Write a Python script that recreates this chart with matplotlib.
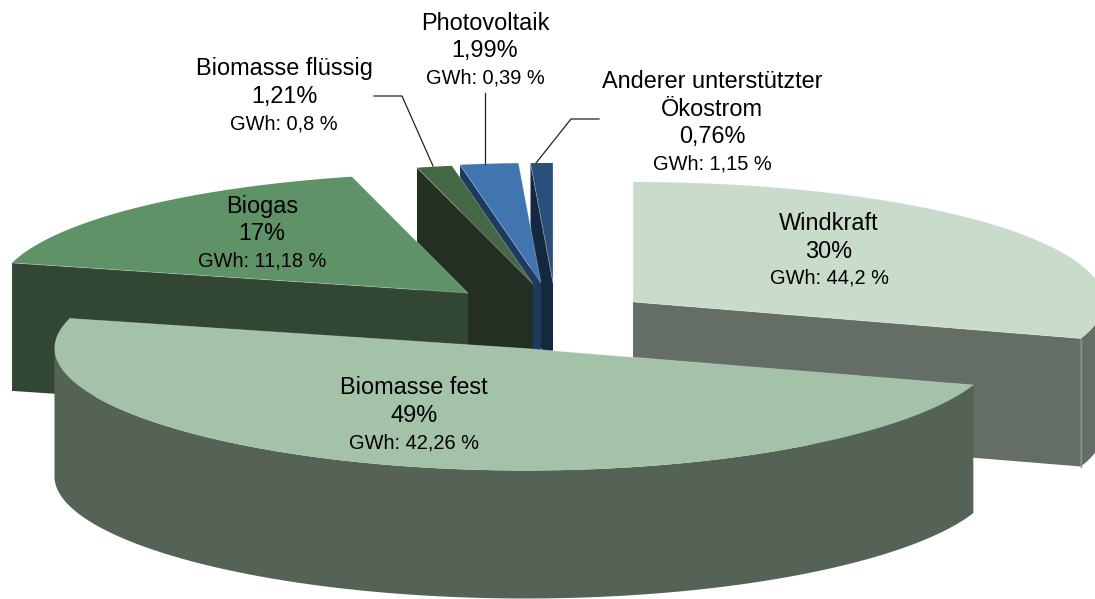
import numpy as np
import matplotlib
matplotlib.use("Agg")
import matplotlib.pyplot as plt
from matplotlib.patches import Polygon

plt.rcParams['font.family'] = ['Liberation Sans', 'DejaVu Sans']

names = ["Windkraft", "Biomasse fest", "Biogas", "Biomasse flüssig", "Photovoltaik",
         "Anderer unterstützter\nÖkostrom"]
shares = [30, 49, 17, 1.21, 1.99, 0.76]
share_labels = ["30%", "49%", "17%", "1,21%", "1,99%", "0,76%"]
gwh_labels = ["GWh: 44,2 %", "GWh: 42,26 %", "GWh: 11,18 %", "GWh: 0,8 %", "GWh: 0,39 %", "GWh: 1,15 %"]

top_colors = ["#c9dbcb", "#a4c2a7", "#5f9266", "#446744", "#4175b0", "#2b4f7b"]
side_colors = ["#646e64", "#546356", "#314733", "#222f21", "#1f3a5c", "#142840"]

# pie geometry in pixels (the figure axes run in image pixels)
rx, ry = 471, 120
depth = 128
# tip of each exploded slice
tips = [(633, 302), (525.5, 348.5), (468, 293), (533, 284), (541, 283), (553, 283)]
# which slices show their first cut face, last cut face
first_wall = [False, False, True, True, True, True]
last_wall = [True, False, False, False, False, False]

# centre of each label block
label_x = [829, 414, 262, 284, 485, 712]
label_y = [223, 388, 206, 69, 23, 81]
line_gap = 28

fig = plt.figure(figsize=(10.95, 5.99), dpi=100)
ax = fig.add_axes([0, 0, 1, 1])
ax.set_xlim(0, 1095)
ax.set_ylim(599, 0)
ax.axis("off")

ends = np.cumsum(shares) / sum(shares) * 360
starts = np.concatenate([[0], ends[:-1]])


def rim(tip, a0, a1):
    t = np.radians(np.linspace(a0, a1, 200))
    c = np.cos(t)
    # the near half of the ellipse comes out a bit deeper, as in the perspective view
    drop = np.where(c > 0, ry * c, 116 * c - 6 * c ** 2)
    return np.column_stack([tip[0] + rx * np.sin(t), tip[1] - drop])


def wall(ax, p0, p1, color, z):
    pts = [p0, p1, (p1[0], p1[1] + depth), (p0[0], p0[1] + depth)]
    ax.add_patch(Polygon(pts, closed=True, fc=color, ec="none", zorder=z))


# back slices first, the big front slice last
order = [5, 4, 3, 2, 0, 1]
for z, i in enumerate(order):
    tip = tips[i]
    arc = rim(tip, starts[i], ends[i])
    base = z * 10 + 1
    # outer wall, only the part facing the viewer
    a0 = max(starts[i], 90)
    a1 = min(ends[i], 270)
    if a1 > a0:
        front = rim(tip, a0, a1)
        low = front[::-1] + [0, depth]
        ax.add_patch(Polygon(np.vstack([front, low]), closed=True,
                             fc=side_colors[i], ec="none", zorder=base))
    if first_wall[i]:
        wall(ax, arc[0], tip, side_colors[i], base + 1)
    if last_wall[i]:
        wall(ax, tip, arc[-1], side_colors[i], base + 1)
        ax.plot([arc[-1][0]] * 2, [arc[-1][1], arc[-1][1] + depth],
                color="#8a938a", lw=1, zorder=base + 2)
    ax.add_patch(Polygon(np.vstack([[tip], arc]), closed=True,
                         fc=top_colors[i], ec="none", zorder=base + 3))
    # thin light seam on the cut edges
    ax.plot([arc[0][0], tip[0], arc[-1][0]], [arc[0][1], tip[1], arc[-1][1]],
            color="white", lw=0.6, alpha=0.3, zorder=base + 4)

# leader lines
ax.plot([374, 402, 433], [96, 96, 166], color="#222222", lw=0.9, zorder=90)
ax.plot([485, 485], [93, 164], color="#222222", lw=0.9, zorder=90)
ax.plot([599, 571, 536], [119, 119, 163], color="#222222", lw=0.9, zorder=90)

for i in range(len(names)):
    y = label_y[i]
    for part in names[i].split("\n"):
        ax.text(label_x[i], y, part, ha="center", va="center", fontsize=16.9, color="black", zorder=100)
        y += line_gap
    ax.text(label_x[i], y, share_labels[i], ha="center", va="center", fontsize=16.9, color="black", zorder=100)
    y += line_gap - 1
    ax.text(label_x[i], y, gwh_labels[i], ha="center", va="center", fontsize=14.4, color="black", zorder=100)

fig.savefig("out.png", dpi=100)
